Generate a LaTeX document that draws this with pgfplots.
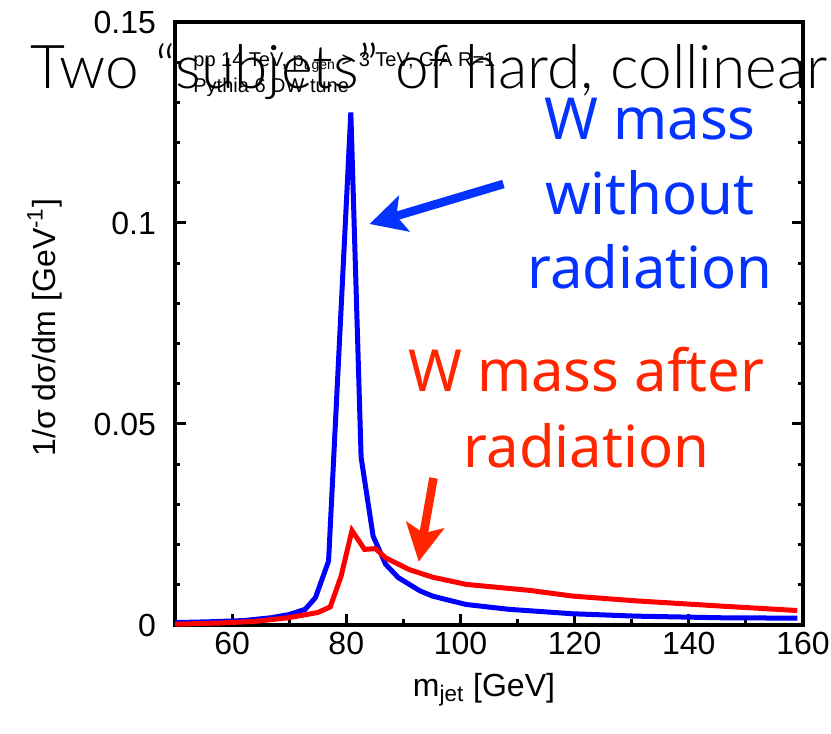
\documentclass[border=0pt]{standalone}
\usepackage{pgfplots}
\pgfplotsset{compat=1.18}
\usepackage{fontspec}
\setmainfont{Liberation Sans}
\newfontfamily\annot{Noto Sans}
\newfontfamily\lightfont{Lato Light}
\usetikzlibrary{arrows.meta}
\definecolor{curveblue}{RGB}{0,0,255}
\definecolor{curvered}{RGB}{255,0,0}
\definecolor{txtblue}{RGB}{4,51,255}
\definecolor{txtred}{RGB}{255,38,0}

\begin{document}
\begin{tikzpicture}
\useasboundingbox (-87.5pt,-54.5pt) rectangle (328pt,312.5pt);
\clip (-87.5pt,-54.5pt) rectangle (328pt,312.5pt);
\begin{axis}[
  at={(0pt,0pt)}, anchor=south west,
  scale only axis, width=314pt, height=301.5pt,
  xmin=50, xmax=160, ymin=0, ymax=0.15,
  clip=false,
  axis line style={line width=2pt},
  xtick={60,80,100,120,140,160},
  xticklabels={60,80,100,120,140,160},
  minor xtick={70,90,110,130,150},
  ytick={0,0.05,0.1,0.15},
  yticklabels={0,0.05,0.1,0.15},
  minor ytick={0.01,0.02,0.03,0.04,0.06,0.07,0.08,0.09,0.11,0.12,0.13,0.14},
  xtick pos=left, ytick pos=both,
  tick align=inside,
  major tick length=5.5pt, minor tick length=2.75pt,
  tick style={line width=1.5pt, black},
  /pgf/number format/assume math mode=true,
  tick label style={font=\fontsize{16}{19}\selectfont},
  yticklabel style={xshift=-6pt},
  xlabel={m\textsubscript{jet} [GeV]},
  xlabel style={at={(axis description cs:0.492,-0.119)}, anchor=base, font=\fontsize{16}{19}\selectfont},
  ylabel={1/σ dσ/dm [GeV\textsuperscript{-1}]},
  ylabel style={at={(axis description cs:-0.191,0.493)}, anchor=base, font=\fontsize{16}{19}\selectfont},
]
\addplot[curveblue, line width=2.5pt] coordinates {
(50.0,0.0006) (56,0.0008) (62,0.0011) (66.8,0.0018) (70,0.0026) (72.8,0.0039)
(74.6,0.0068) (76.9,0.0159) (80.8,0.1275) (82.6,0.0417) (84.7,0.0221)
(86.9,0.0151) (89.1,0.0118) (92.9,0.0085) (95.1,0.0072) (97.3,0.0064)
(101.0,0.0051) (108.5,0.0039) (119.6,0.0028) (130.8,0.0022) (145.7,0.0018) (159.0,0.0017)
};
\addplot[curvered, line width=2.5pt] coordinates {
(50.0,0.0002) (58,0.0005) (64,0.0009) (69.8,0.0018) (75.0,0.0031) (77.2,0.0045)
(79.1,0.0122) (81.0,0.0235) (83.2,0.0188) (85.1,0.0190) (86.9,0.0167)
(91.0,0.0138) (95.1,0.0119) (101.0,0.0101) (112.2,0.0086) (119.6,0.0072)
(130.8,0.0060) (145.7,0.0047) (159.0,0.0036)
};
\node[anchor=base west, inner sep=0, font=\fontsize{10}{12}\selectfont] at (axis cs:53.15,0.13905) {pp 14 TeV, p\textsubscript{t,gen} > 3 TeV, C/A R=1};
\node[anchor=base west, inner sep=0, font=\fontsize{10}{12}\selectfont] at (axis cs:53.15,0.13234) {Pythia 6 DW tune};
\node[anchor=base west, inner sep=0, font=\lightfont\fontsize{30.2}{35}\selectfont] at (axis cs:24.6,0.13358) {Two “subjets” of hard, collinear};
\node[anchor=base, inner sep=0, text=txtblue, font=\annot\fontsize{29}{34}\selectfont] at (axis cs:133.2,0.12065) {W mass};
\node[anchor=base, inner sep=0, text=txtblue, font=\annot\fontsize{29}{34}\selectfont] at (axis cs:133.2,0.10199) {without};
\node[anchor=base, inner sep=0, text=txtblue, font=\annot\fontsize{29}{34}\selectfont] at (axis cs:133.2,0.08383) {radiation};
\node[anchor=base, inner sep=0, text=txtred, font=\annot\fontsize{29}{34}\selectfont] at (axis cs:122.06,0.05796) {W mass after};
\node[anchor=base, inner sep=0, text=txtred, font=\annot\fontsize{29}{34}\selectfont] at (axis cs:122.06,0.0393) {radiation};
\draw[txtblue, line width=4.3pt, -{Stealth[length=18pt, width=18.5pt, inset=4pt]}] (axis cs:107.52,0.1097) -- (axis cs:84.07,0.09975);
\draw[txtred, line width=4.3pt, -{Stealth[length=18.5pt, width=19pt, inset=4pt]}] (axis cs:95.28,0.03657) -- (axis cs:92.69,0.01575);
\end{axis}
\end{tikzpicture}
\end{document}
